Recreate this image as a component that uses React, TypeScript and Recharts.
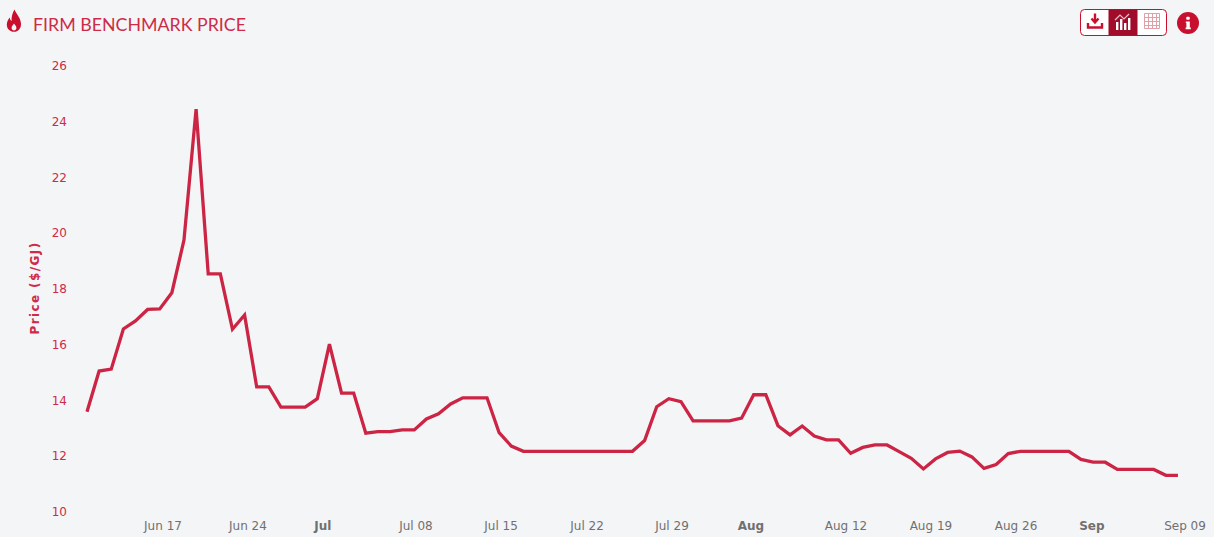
import React from "react";
import { LineChart, Line, XAxis, YAxis } from "recharts";

const prices = [
  13.56, 15.02, 15.09, 16.53, 16.82, 17.23, 17.25, 17.83, 19.72, 24.42,
  18.51, 18.51, 16.52, 17.03, 14.45, 14.45, 13.73, 13.73, 13.73, 14.03,
  15.99, 14.23, 14.23, 12.79, 12.85, 12.85, 12.91, 12.91, 13.3, 13.49,
  13.84, 14.06, 14.06, 14.06, 12.81, 12.33, 12.14, 12.14, 12.14, 12.14,
  12.14, 12.14, 12.14, 12.14, 12.14, 12.14, 12.53, 13.74, 14.03, 13.92,
  13.23, 13.23, 13.23, 13.23, 13.33, 14.17, 14.17, 13.06, 12.73, 13.05,
  12.69, 12.55, 12.55, 12.07, 12.28, 12.37, 12.37, 12.13, 11.89, 11.51,
  11.87, 12.1, 12.15, 11.94, 11.53, 11.67, 12.06, 12.14, 12.14, 12.14,
  12.14, 12.14, 11.85, 11.75, 11.75, 11.49, 11.49, 11.49, 11.49, 11.28, 11.28,
];
const tickDays = [6.27, 13.28, 19.46, 27.14, 34.16, 41.25, 48.26, 54.77, 62.61, 69.62, 76.64, 82.9, 90.58];
const tickLabels = ["Jun 17", "Jun 24", "Jul", "Jul 08", "Jul 15", "Jul 22", "Jul 29", "Aug", "Aug 12", "Aug 19", "Aug 26", "Sep", "Sep 09"];
const boldLabels = ["Jul", "Aug", "Sep"];
const yTicks = [10, 12, 14, 16, 18, 20, 22, 24, 26];
const title = "FIRM BENCHMARK PRICE";
const yTitle = "Price ($/GJ)";

const rows = prices.map((price, day) => ({ day, price }));
const RED = "#c8102e";
const FONT = "'DejaVu Sans', Verdana, sans-serif";

const XTick = (props: any) => {
  const { x, y, payload } = props;
  const label = tickLabels[tickDays.indexOf(payload.value)];
  const bold = boldLabels.includes(label);
  return (
    <text x={x} y={y + 19} textAnchor="middle" fontFamily={FONT} fontSize={12} fontWeight={bold ? 700 : 400} fill="#707070">
      {label}
    </text>
  );
};

const YTick = (props: any) => {
  const { x, y, payload } = props;
  return (
    <text x={x} y={y + 5} textAnchor="end" fontFamily={FONT} fontSize={12} fill="#cf2a48">
      {payload.value}
    </text>
  );
};

const Header = () => (
  <>
    <svg width={18} height={24} viewBox="0 0 18 24" style={{ position: "absolute", left: 5, top: 9 }}>
      <path
        fill={RED}
        fillRule="evenodd"
        d="M9.5 0.5C10.5 4 15.5 8 16 14.5C16.3 19.5 13 22.8 9 22.8C5 22.8 1.7 19.8 1.8 15.5C1.9 12 3.6 10 4.8 8.5C5 10.5 5.6 11.6 6.6 12C6.2 8 7.6 3.5 9.5 0.5ZM9 14.5C7.8 16.3 6.6 17.4 6.6 19C6.6 20.5 7.7 21.4 9 21.4C10.3 21.4 11.4 20.5 11.4 19C11.4 17.4 10.2 16.3 9 14.5Z"
      />
    </svg>
    <div style={{ position: "absolute", left: 33, top: 13, fontFamily: "Lato, sans-serif", fontSize: 17.8, fontWeight: 400, lineHeight: "22px", color: "#cf2a48", whiteSpace: "nowrap" }}>
      {title}
    </div>
    <svg width={88} height={28} viewBox="0 0 88 28" style={{ position: "absolute", left: 1079.5, top: 8.5 }}>
      <rect x={0.5} y={0.5} width={86} height={26} rx={4} fill="#ffffff" stroke={RED} />
      <rect x={28.5} y={0.5} width={29} height={26} fill="#a00c2a" />
      <path d="M15 4.5V13M11.5 9.5L15 13.5L18.5 9.5" fill="none" stroke={RED} strokeWidth={2.4} />
      <path d="M8 14V18.5H22V14" fill="none" stroke={RED} strokeWidth={2.4} />
      <g fill="#ffffff">
        <rect x={36} y={13} width={2.4} height={8} />
        <rect x={40} y={10} width={2.4} height={11} />
        <rect x={44} y={14} width={2.4} height={7} />
        <rect x={48} y={9} width={2.4} height={12} />
      </g>
      <path d="M35 11L40 6L44 10L49 5" fill="none" stroke="#f1c0c8" strokeWidth={1.2} />
      <g fill="none" stroke="#e0a0a8" strokeWidth={1}>
        <path d="M64.5 4.5H79.5V19.5H64.5ZM64.5 8.5H79.5M64.5 12.5H79.5M64.5 16.5H79.5M68.5 4.5V19.5M72.5 4.5V19.5M76.5 4.5V19.5" />
      </g>
    </svg>
    <svg width={24} height={24} viewBox="0 0 24 24" style={{ position: "absolute", left: 1176, top: 11 }}>
      <circle cx={12} cy={12} r={11} fill={RED} />
      <rect x={10.2} y={5.8} width={3.6} height={3} rx={1} fill="#ffffff" />
      <path d="M9.8 10.4H13.8V16.4H14.8V18.2H9.6V16.4H10.4V12H9.8Z" fill="#ffffff" />
    </svg>
  </>
);

export default function App() {
  return (
    <div style={{ position: "absolute", left: 0, top: 0, width: 1214, height: 537, background: "#f4f5f7", overflow: "hidden" }}>
      <Header />
      <div style={{ position: "absolute", left: 0, top: 0 }}>
        <LineChart width={1214} height={537} data={rows} margin={{ top: 65, right: 11.8, bottom: 0, left: 0 }}>
          <XAxis
            dataKey="day"
            type="number"
            domain={[0, 92]}
            ticks={tickDays}
            interval={0}
            height={26}
            axisLine={false}
            tickLine={false}
            tick={<XTick />}
            tickSize={0}
            tickMargin={0}
          />
          <YAxis
            domain={[10, 26]}
            ticks={yTicks}
            interval={0}
            width={87}
            axisLine={false}
            tickLine={false}
            tickSize={0}
            tickMargin={20}
            tick={<YTick />}
            label={{
              value: yTitle,
              angle: -90,
              position: "insideLeft",
              offset: 35,
              style: { fontFamily: FONT, fontSize: 12, fontWeight: 700, letterSpacing: 1.4, fill: "#cf2a48", textAnchor: "middle" },
            }}
          />
          <Line dataKey="price" type="linear" stroke="#cc2444" strokeWidth={3.3} dot={false} activeDot={false} isAnimationActive={false} />
        </LineChart>
      </div>
    </div>
  );
}
